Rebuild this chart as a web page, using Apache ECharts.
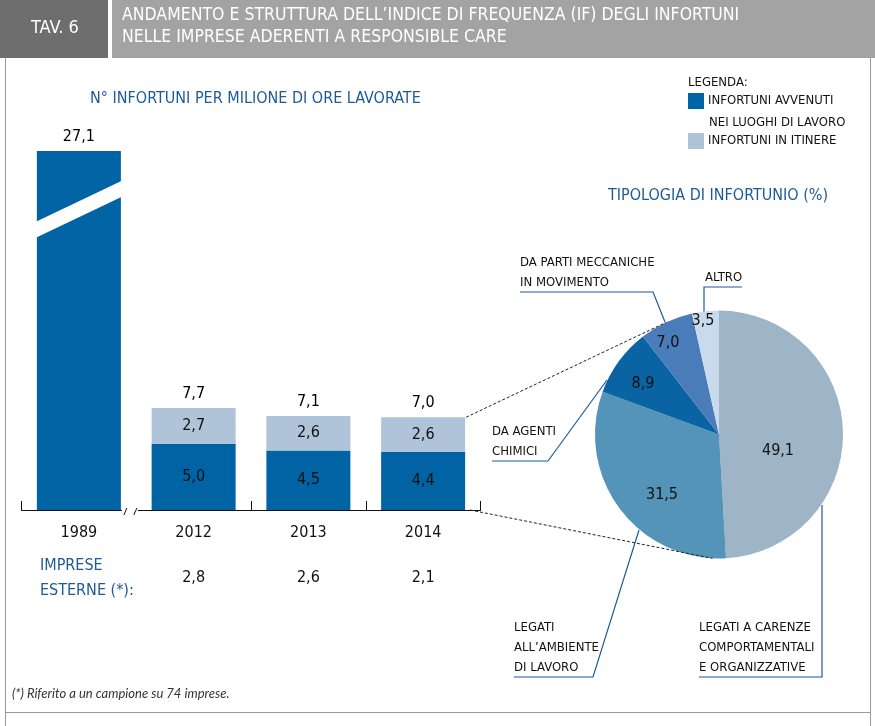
<!DOCTYPE html>
<html><head><meta charset="utf-8">
<script src="https://cdn.jsdelivr.net/npm/echarts@6/dist/echarts.min.js"></script>
<style>html,body{margin:0;padding:0;background:#fff}#c{width:875px;height:726px}</style>
</head><body><div id="c"></div>
<script>
// ---- data ----
const years = ['1989', '2012', '2013', '2014'];
const luoghiLavoro = [27.1, 5.0, 4.5, 4.4];
const itinere = [0, 2.7, 2.6, 2.6];
const totali = [27.1, 7.7, 7.1, 7.0];
const impreseEsterne = [null, 2.8, 2.6, 2.1];
const tipologie = ['LEGATI A CARENZE\nCOMPORTAMENTALI\nE ORGANIZZATIVE', 'LEGATI\nALL’AMBIENTE\nDI LAVORO', 'DA AGENTI\nCHIMICI', 'DA PARTI MECCANICHE\nIN MOVIMENTO', 'ALTRO'];
const quote = [49.1, 31.5, 8.9, 7.0, 3.5];

// ---- style ----
const F = '"Liberation Sans Narrow","DejaVu Sans Condensed",sans-serif';
const BLUE_TXT = '#1d5b97';
const C_DARK = '#0063a3', C_LIGHT = '#afc3d9';
const PIE_COLORS = ['#9eb4c7', '#5394b8', '#0a63a3', '#4b7cba', '#c8daec'];
const PIE_C = [719, 434.5], PIE_R = 124;
const fmt = v => (v == null ? '' : Number(v).toFixed(1).replace('.', ','));

const innerPos = [[778, 451], [662, 495], [643, 384], [668, 343], [703, 321]];
const outerLay = [
  { x: 699, y: 678, pts: [[822, 505], [822, 677], [699, 677]] },
  { x: 514, y: 678, pts: [[639, 530], [593, 677], [514, 677]] },
  { x: 492, y: 462, pts: [[607, 380], [548, 461], [492, 461]] },
  { x: 520, y: 293, pts: [[665, 322], [653, 292], [520, 292]] },
  { x: 705, y: 288, pts: [[704, 312], [704, 287], [742, 287]] }
];

const chart = echarts.init(document.getElementById('c'), null, { renderer: 'canvas' });
const pieData = tipologie.map((n, i) => ({ name: n, value: quote[i], itemStyle: { color: PIE_COLORS[i] } }));

chart.setOption({
  animation: false,
  backgroundColor: '#fff',
  textStyle: { fontFamily: F },
  title: [
    { text: 'TAV. 6', left: 31, top: 19, padding: 0, textStyle: { color: '#fff', fontSize: 18, fontWeight: 'normal', fontFamily: F } },
    { text: 'ANDAMENTO E STRUTTURA DELL’INDICE DI FREQUENZA (IF) DEGLI INFORTUNI\nNELLE IMPRESE ADERENTI A RESPONSIBLE CARE', left: 122, top: 4, padding: 0,
      textStyle: { color: '#fff', fontSize: 17.5, lineHeight: 22, fontWeight: 'normal', fontFamily: F } },
    { text: 'N° INFORTUNI PER MILIONE DI ORE LAVORATE', left: 90, top: 91, padding: 0, textStyle: { color: BLUE_TXT, fontSize: 16, fontWeight: 'normal', fontFamily: F } },
    { text: 'TIPOLOGIA DI INFORTUNIO (%)', left: 608, top: 188, padding: 0, textStyle: { color: BLUE_TXT, fontSize: 16, fontWeight: 'normal', fontFamily: F } },
    { text: 'LEGENDA:', left: 688, top: 76, padding: 0, textStyle: { color: '#111', fontSize: 13, fontWeight: 'normal', fontFamily: F } },
    { text: 'IMPRESE\nESTERNE (*):', left: 40, top: 553, padding: 0, textStyle: { color: BLUE_TXT, fontSize: 16, lineHeight: 25, fontWeight: 'normal', fontFamily: F } },
    { text: '(*) Riferito a un campione su 74 imprese.', left: 12, top: 687, padding: 0, textStyle: { color: '#333', fontSize: 13, fontStyle: 'italic', fontWeight: 'normal', fontFamily: 'Lato, "Liberation Sans", sans-serif' } }
  ],
  legend: {
    data: ['INFORTUNI AVVENUTI NEI LUOGHI DI LAVORO', 'INFORTUNI IN ITINERE'],
    left: 688, top: 93, orient: 'vertical', padding: 0,
    itemWidth: 16, itemHeight: 16, itemGap: 24, icon: 'rect',
    selectedMode: false,
    formatter: n => n === 'INFORTUNI AVVENUTI NEI LUOGHI DI LAVORO' ? 'INFORTUNI AVVENUTI' : n,
    textStyle: { color: '#111', fontSize: 13, fontFamily: F, padding: [0, 0, 0, -1] }
  },
  grid: { left: 21.5, width: 459, top: 112.5, height: 397.5, containLabel: false },
  xAxis: [
    { type: 'category', data: years, boundaryGap: true,
      axisLine: { lineStyle: { color: '#111', width: 1 } },
      axisTick: { show: true, inside: true, length: 9, lineStyle: { color: '#111' }, interval: (i) => i !== 1 },
      axisLabel: { fontSize: 16, color: '#111', margin: 15, fontFamily: F } },
    { type: 'category', data: years, position: 'bottom', boundaryGap: true,
      axisLine: { show: false }, axisTick: { show: false },
      axisLabel: { fontSize: 16, color: '#111', margin: 60, fontFamily: F, formatter: (v, i) => fmt(impreseEsterne[i]) } }
  ],
  yAxis: { type: 'value', min: 0, max: 30, show: false },
  series: [
    { name: 'INFORTUNI AVVENUTI NEI LUOGHI DI LAVORO', type: 'bar', stack: 'if', barWidth: 84, data: luoghiLavoro,
      itemStyle: { color: C_DARK },
      label: { show: true, position: 'inside', color: '#111', fontSize: 16, fontFamily: F,
        formatter: p => (p.dataIndex === 0 ? '' : fmt(p.value)) } },
    { name: 'INFORTUNI IN ITINERE', type: 'bar', stack: 'if', barWidth: 84, data: itinere,
      itemStyle: { color: C_LIGHT },
      label: { show: true, position: 'inside', color: '#111', fontSize: 16, fontFamily: F,
        formatter: p => (p.value ? fmt(p.value) : '') } },
    { name: 'TOTALE', type: 'scatter', data: totali, symbolSize: 1, itemStyle: { color: 'rgba(0,0,0,0)', opacity: 1 }, silent: true,
      label: { show: true, position: 'top', distance: 6, color: '#000', fontSize: 16, fontFamily: F, formatter: p => fmt(p.value) } },
    { name: 'TIPOLOGIA', type: 'pie', center: PIE_C, radius: PIE_R, startAngle: 90, clockwise: true, silent: true,
      data: pieData,
      label: { show: true, position: 'inside', color: '#111', fontSize: 16, fontFamily: F, formatter: p => fmt(p.value) },
      labelLine: { show: false },
      labelLayout: p => ({ x: innerPos[p.dataIndex][0], y: innerPos[p.dataIndex][1], align: 'center', verticalAlign: 'middle' }) },
    { name: 'TIPOLOGIA ETICHETTE', type: 'pie', center: PIE_C, radius: PIE_R, startAngle: 90, clockwise: true, silent: true, z: 1,
      data: tipologie.map((n, i) => ({ name: n, value: quote[i] })),
      itemStyle: { color: 'rgba(0,0,0,0)' },
      label: { show: true, position: 'outside', width: 170, overflow: 'none', color: '#111', fontSize: 13, lineHeight: 20, fontFamily: F, formatter: p => p.name },
      labelLine: { show: true, smooth: false, lineStyle: { color: '#1d5b97', width: 1.2 } },
      labelLayout: p => { const L = outerLay[p.dataIndex]; return { x: L.x, y: L.y, align: 'left', verticalAlign: 'bottom', labelLinePoints: L.pts }; } }
  ]
});

// ---- decorations computed from the chart's own scales ----
const px = (cat, v) => chart.convertToPixel({ gridIndex: 0 }, [cat, v]);
const half = 42;
const c89 = px('1989', 0)[0];
const c14 = px('2014', 0)[0];
const base = px('1989', 0)[1];
const pieAt = (deg) => { const a = deg * Math.PI / 180; return [PIE_C[0] + PIE_R * Math.sin(a), PIE_C[1] - PIE_R * Math.cos(a)]; };
const yL1 = px('1989', 21.75)[1], yR1 = px('1989', 24.85)[1];
const yL2 = px('1989', 20.55)[1], yR2 = px('1989', 23.65)[1];
const top14 = px('2014', totali[3])[1];
const pTop = pieAt(334.6), pBot = pieAt(183);
const gx = c89 + half + 1;
chart.setOption({
  graphic: [
    { id: 'hdrDark', type: 'rect', shape: { x: 0, y: 0, width: 108, height: 58 }, style: { fill: '#6e6e6e' }, z: -10 },
    { id: 'hdrLight', type: 'rect', shape: { x: 112, y: 0, width: 763, height: 58 }, style: { fill: '#a3a3a3' }, z: -10 },
    { id: 'frL', type: 'line', shape: { x1: 5.5, y1: 58, x2: 5.5, y2: 726 }, style: { stroke: '#9a9a9a', lineWidth: 1 }, z: -10 },
    { id: 'frR', type: 'line', shape: { x1: 870.5, y1: 58, x2: 870.5, y2: 726 }, style: { stroke: '#9a9a9a', lineWidth: 1 }, z: -10 },
    { id: 'frB', type: 'line', shape: { x1: 5, y1: 712.5, x2: 871, y2: 712.5 }, style: { stroke: '#9a9a9a', lineWidth: 1 }, z: -10 },
    { id: 'leg2', type: 'text', x: 709, y: 123, style: { text: 'NEI LUOGHI DI LAVORO', fill: '#111', fontSize: 13, fontFamily: F, textVerticalAlign: 'middle' } },
    { id: 'stripe', type: 'polygon', shape: { points: [[c89 - half - 1, yL1], [c89 + half + 1, yR1], [c89 + half + 1, yR2], [c89 - half - 1, yL2]] }, style: { fill: '#fff' }, z: 100 },
    { id: 'gap', type: 'rect', shape: { x: gx, y: base - 3, width: 16, height: 6 }, style: { fill: '#fff' }, z: 100 },
    { id: 'sl1', type: 'line', shape: { x1: gx + 2, y1: base + 5, x2: gx + 5, y2: base - 2 }, style: { stroke: '#111', lineWidth: 1 }, z: 101 },
    { id: 'sl2', type: 'line', shape: { x1: gx + 12, y1: base + 5, x2: gx + 15, y2: base - 2 }, style: { stroke: '#111', lineWidth: 1 }, z: 101 },
    { id: 'dTop', type: 'line', shape: { x1: c14 + half + 1, y1: top14, x2: pTop[0], y2: pTop[1] }, style: { stroke: '#222', lineWidth: 1, lineDash: [3, 2] }, z: 50 },
    { id: 'dBot', type: 'line', shape: { x1: c14 + half + 5, y1: base, x2: pBot[0], y2: pBot[1] }, style: { stroke: '#222', lineWidth: 1, lineDash: [3, 2] }, z: 50 }
  ]
});
</script>
</body></html>
